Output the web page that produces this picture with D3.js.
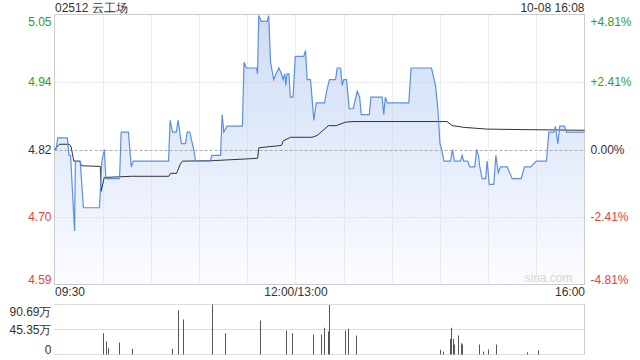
<!DOCTYPE html>
<html>
<head>
<meta charset="utf-8">
<script src="https://cdn.jsdelivr.net/npm/d3@7/dist/d3.min.js"></script>
<style>
  body { margin: 0; background: #fff; }
  svg { display: block; font-family: "Liberation Sans", Arial, sans-serif; }
</style>
</head>
<body>
<div id="viz"></div>
<script>
const stockName = "02512 云工场";
const stamp = "10-08 16:08";
const prevClose = 4.82;
const pctStep = 0.02405;

const priceLabels = ["4.59", "4.70", "4.82", "4.94", "5.05"];
const pctLabels = ["-4.81%", "-2.41%", "0.00%", "+2.41%", "+4.81%"];
const timeLabels = ["09:30", "12:00/13:00", "16:00"];
const timeTicks = [0, 150, 330];
const volLabels = ["0", "45.35万", "90.69万"];
const volTicks = [0, 45.35, 90.69];

// price line, minutes since 09:30 (lunch removed)
const priceMinutes = [0, 1, 2, 8, 9, 10, 12.5, 13, 16, 18, 28, 29.5, 31, 32, 40.5, 41.5, 46, 47.8, 49,
  71, 72, 73.5, 75.8, 77, 79, 81.6, 82.6, 84.2, 86.7, 87.8, 97, 98, 103.4, 104.4, 105.4, 107.5,
  117, 118, 119.4, 125.8, 126.4, 127.2, 128.7, 132.4, 133.4, 134.5, 136.5, 138, 139.7, 141.3,
  142.3, 143.4, 144, 144.8, 146, 146.8, 148.5, 149.9, 155.2, 156.3, 157.3, 159.4, 161.5, 163,
  168.1, 169.4, 171.2, 175, 176, 178.1, 179.1, 180.1, 181.8, 183.5, 186, 188.5, 190, 191, 196,
  197, 204, 205, 206, 207.2, 220.6, 222, 234.7, 237.2, 238.7, 240, 241, 242.5, 246.6, 247.8,
  249, 252.8, 253.8, 254.8, 257.3, 258.6, 261.7, 262.8, 264, 264.8, 266.3, 268.4, 269.4, 270.7,
  273.5, 274.8, 276.3, 277.7, 281.9, 285, 290.6, 292.6, 296.4, 300, 306.3, 307.8, 310.9, 311.9,
  313.4, 314.6, 317.5, 318.8, 330];
const prices = [4.82, 4.82, 4.84, 4.84, 4.81, 4.81, 4.68, 4.80, 4.80, 4.72, 4.72, 4.80, 4.82, 4.77, 4.77, 4.85, 4.85, 4.79, 4.80,
  4.80, 4.87, 4.85, 4.85, 4.87, 4.83, 4.83, 4.85, 4.85, 4.82, 4.80, 4.80, 4.81, 4.81, 4.88, 4.85, 4.86,
  4.86, 4.97, 4.96, 4.96, 4.95, 5.05, 5.04, 5.04, 5.05, 4.97, 4.94, 4.95, 4.96, 4.95,
  4.94, 4.95, 4.93, 4.95, 4.95, 4.91, 4.91, 4.98, 4.98, 4.99, 4.94, 4.94, 4.87, 4.90,
  4.90, 4.92, 4.94, 4.94, 4.96, 4.96, 4.93, 4.94, 4.94, 4.89, 4.89, 4.92, 4.91, 4.88, 4.88,
  4.91, 4.91, 4.88, 4.91, 4.90, 4.90, 4.96, 4.96, 4.93, 4.89, 4.83, 4.82, 4.80, 4.80, 4.82,
  4.80, 4.80, 4.81, 4.80, 4.80, 4.79, 4.79, 4.82, 4.81, 4.79, 4.77, 4.77, 4.80, 4.76,
  4.76, 4.81, 4.78, 4.79, 4.79, 4.77, 4.77, 4.79, 4.79, 4.80, 4.80, 4.85, 4.85, 4.86,
  4.83, 4.86, 4.86, 4.85, 4.85];

// average price line
const avgMinutes = [0, 3, 9.3, 10.4, 12, 15.6, 17, 28.5, 29, 31, 47.8, 71.2, 72.2, 76, 78.3, 79.7, 99.6,
  120.7, 126.5, 127.2, 141.3, 142.5, 147, 160.3, 163.5, 170.6, 175.4, 181.2, 186.4, 244.4, 247.6,
  252.8, 255, 269.4, 296.4, 330];
const avgPrices = [4.82, 4.829, 4.829, 4.824, 4.800, 4.800, 4.792, 4.791, 4.748, 4.772, 4.774, 4.774, 4.779, 4.779, 4.795, 4.800, 4.801,
  4.804, 4.805, 4.823, 4.827, 4.835, 4.841, 4.841, 4.844, 4.861, 4.861, 4.867, 4.868, 4.868, 4.861,
  4.859, 4.858, 4.855, 4.854, 4.853];

// volume in 万
const volMinutes = [30, 32, 33, 40, 48, 73, 77, 80, 98, 106, 128, 144, 148, 161, 166, 168, 170, 171, 181, 183, 188,
  240, 242, 246, 247, 248, 249, 251, 253, 254, 264, 267, 270, 275, 294, 301];
const volumes = [38.6, 23.6, 11.4, 21.8, 10.3, 10.3, 79.8, 63.5, 90.69, 38.6, 61.7, 43.5, 38.6, 36.3, 36.3, 48.4, 41.7, 89.8, 43.5, 46.5, 34.5,
  8.5, 5.4, 28.4, 48.4, 28.4, 18.1, 34.5, 20.5, 18.1, 18.1, 5.4, 9, 18.1, 4, 7.2];

const green = "#2ba02b", red = "#e8413d", ink = "#333";

const svg = d3.select("#viz").append("svg").attr("width", 640).attr("height", 360);

const pLeft = 54.5, pRight = 584.5, pTop = 14.5, pBottom = 284.5;
const x = d3.scaleLinear().domain([0, 330]).range([pLeft, pRight]);
const y = d3.scaleLinear()
  .domain([prevClose * (1 - 2 * pctStep), prevClose * (1 + 2 * pctStep)])
  .range([pBottom, pTop]);
const tickVals = [-2, -1, 0, 1, 2].map(k => prevClose * (1 + k * pctStep));
const tickColor = i => i < 2 ? red : (i > 2 ? green : ink);

// gradient for the area
const grad = svg.append("defs").append("linearGradient")
  .attr("id", "fill")
  .attr("gradientUnits", "userSpaceOnUse")
  .attr("x1", 0).attr("x2", 0).attr("y1", pTop).attr("y2", pBottom);
grad.append("stop").attr("offset", 0).attr("stop-color", "#cddcf6");
grad.append("stop").attr("offset", 1).attr("stop-color", "#fbfcff");

const priceData = priceMinutes.map((m, i) => [m, prices[i]]);
const avgData = avgMinutes.map((m, i) => [m, avgPrices[i]]);

svg.append("path")
  .datum(priceData)
  .attr("fill", "url(#fill)")
  .attr("d", d3.area().x(d => x(d[0])).y0(pBottom).y1(d => y(d[1])));

// grid
tickVals.forEach((v, i) => {
  if (i === 0 || i === 4) return;
  svg.append("line")
    .attr("x1", pLeft).attr("x2", pRight)
    .attr("y1", Math.round(y(v)) + 0.5).attr("y2", Math.round(y(v)) + 0.5)
    .attr("stroke", i === 2 ? "#aaa" : "#ccc")
    .attr("stroke-dasharray", i === 2 ? "3,2" : "1,2");
});
d3.range(30, 330, 30).forEach(m => {
  svg.append("line")
    .attr("x1", Math.round(x(m)) + 0.5).attr("x2", Math.round(x(m)) + 0.5)
    .attr("y1", pTop).attr("y2", pBottom)
    .attr("stroke", "#ccc").attr("stroke-dasharray", "1,2");
});

svg.append("rect")
  .attr("x", pLeft).attr("y", pTop).attr("width", pRight - pLeft).attr("height", pBottom - pTop)
  .attr("fill", "none").attr("stroke", "#ccc");

svg.append("text")
  .attr("x", pRight - 12).attr("y", 282)
  .attr("text-anchor", "end").attr("font-size", 12).attr("fill", "#d4d4d4")
  .text("sina.com");

svg.append("path")
  .datum(avgData)
  .attr("fill", "none").attr("stroke", "#333").attr("stroke-width", 1)
  .attr("d", d3.line().x(d => x(d[0])).y(d => y(d[1])));

svg.append("path")
  .datum(priceData)
  .attr("fill", "none").attr("stroke", "#5a8fe8").attr("stroke-width", 1.2)
  .attr("d", d3.line().x(d => x(d[0])).y(d => y(d[1])));

// axes
const leftAxis = svg.append("g")
  .attr("transform", `translate(${pLeft},0)`)
  .call(d3.axisLeft(y).tickValues(tickVals).tickFormat((d, i) => priceLabels[i]).tickSize(0).tickPadding(3));
const rightAxis = svg.append("g")
  .attr("transform", `translate(${pRight},0)`)
  .call(d3.axisRight(y).tickValues(tickVals).tickFormat((d, i) => pctLabels[i]).tickSize(0).tickPadding(6));
[leftAxis, rightAxis].forEach(g => {
  g.select(".domain").remove();
  g.selectAll("text")
    .attr("font-size", 12).attr("font-family", "Liberation Sans, Arial, sans-serif")
    .attr("fill", (d, i) => tickColor(i))
    .attr("dy", (d, i) => i === 4 ? "0.95em" : (i === 0 ? "-0.1em" : "0.32em"));
});

const timeAxis = svg.append("g")
  .attr("transform", `translate(0,${pBottom})`)
  .call(d3.axisBottom(x).tickValues(timeTicks).tickFormat((d, i) => timeLabels[i]).tickSize(0).tickPadding(3));
timeAxis.select(".domain").remove();
timeAxis.selectAll("text")
  .attr("font-size", 12).attr("font-family", "Liberation Sans, Arial, sans-serif").attr("fill", ink)
  .attr("text-anchor", (d, i) => ["start", "middle", "end"][i]);

// title
svg.append("text").attr("x", 55).attr("y", 12).attr("font-size", 12).attr("fill", ink).text(stockName);
svg.append("text").attr("x", pRight).attr("y", 12).attr("font-size", 12).attr("fill", ink)
  .attr("text-anchor", "end").text(stamp);

// volume panel
const vTop = 304.5, vBottom = 354.5;
const yv = d3.scaleLinear().domain([0, 90.69]).range([vBottom, vTop]);

volTicks.forEach(v => {
  svg.append("line")
    .attr("x1", pLeft).attr("x2", pRight).attr("y1", yv(v)).attr("y2", yv(v))
    .attr("stroke", "#bbb").attr("stroke-dasharray", "1,1");
});
svg.append("line")
  .attr("x1", pRight).attr("x2", pRight).attr("y1", vTop).attr("y2", vBottom)
  .attr("stroke", "#ccc");

svg.append("g").selectAll("line")
  .data(volMinutes.map((m, i) => [m, volumes[i]]))
  .join("line")
  .attr("x1", d => Math.round(x(d[0])) + 0.5).attr("x2", d => Math.round(x(d[0])) + 0.5)
  .attr("y1", vBottom).attr("y2", d => yv(d[1]))
  .attr("stroke", "#555").attr("stroke-width", 1);

const volAxis = svg.append("g")
  .attr("transform", `translate(${pLeft},0)`)
  .call(d3.axisLeft(yv).tickValues(volTicks).tickFormat((d, i) => volLabels[i]).tickSize(0).tickPadding(3));
volAxis.select(".domain").remove();
volAxis.selectAll("text")
  .attr("font-size", 12).attr("font-family", "Liberation Sans, Arial, sans-serif").attr("fill", ink)
  .attr("dy", (d, i) => i === 2 ? "0.95em" : (i === 0 ? "-0.1em" : "0.32em"));
</script>
</body>
</html>
